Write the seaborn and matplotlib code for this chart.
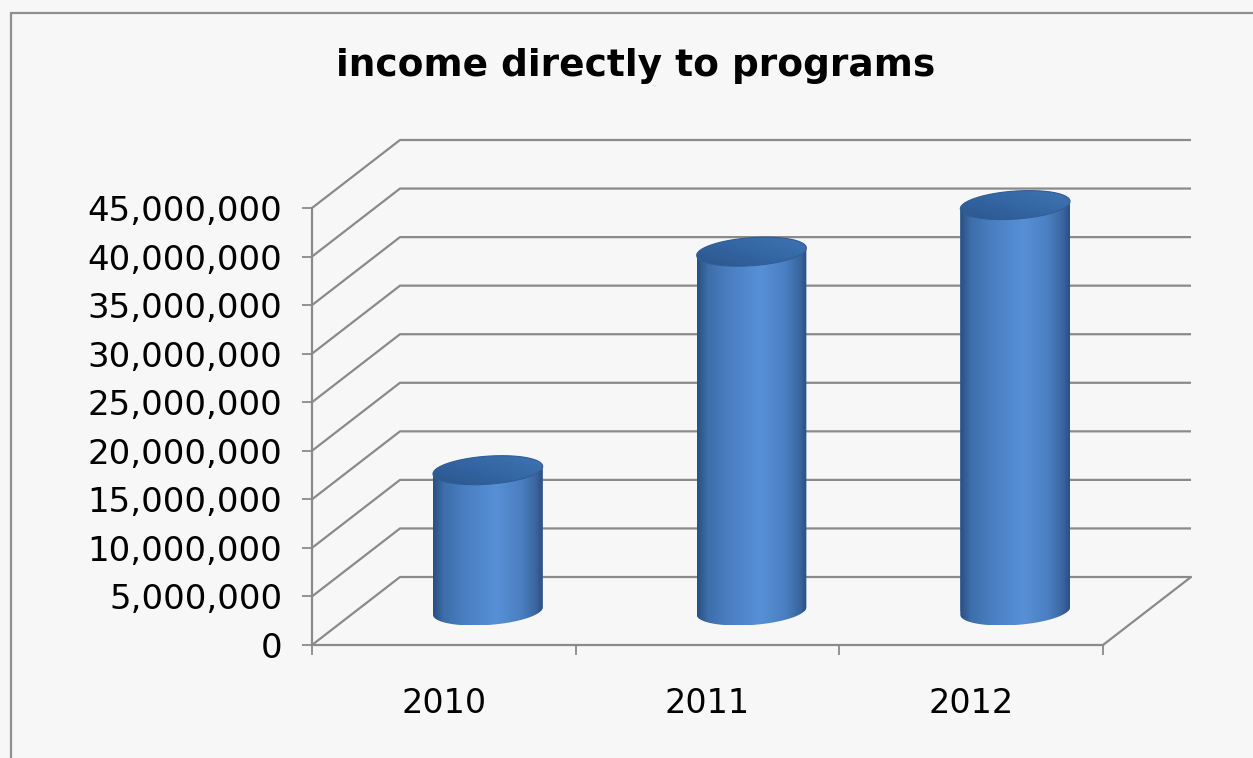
import numpy as np
import pandas as pd
import matplotlib
matplotlib.use("Agg")
import matplotlib.pyplot as plt
import seaborn as sns
from matplotlib.path import Path
from matplotlib.patches import PathPatch, Rectangle
from matplotlib.colors import LinearSegmentedColormap
from matplotlib.ticker import FuncFormatter, FixedLocator

# ---- data ----
years = ["2010", "2011", "2012"]
income = [14.5e6, 37.0e6, 41.8e6]
yticks = [0, 5e6, 10e6, 15e6, 20e6, 25e6, 30e6, 35e6, 40e6, 45e6]
title = "income directly to programs"

sns.set_theme(style="white")
plt.rcParams["font.family"] = ["DejaVu Sans"]

W, H = 1253, 758
BG = "#f7f7f7"
GRID = "#8a8a8a"

fig = plt.figure(figsize=(W / 100, H / 100), dpi=100, facecolor=BG)
ax = fig.add_axes([312 / W, (H - 645) / H, (1103 - 312) / W, (645 - 208) / H])
ax.set_facecolor("none")

df = pd.DataFrame({"year": years, "income": income})
sns.barplot(data=df, x="year", y="income", ax=ax, width=0.416,
            color="#4a7fc0", saturation=1, zorder=3, errorbar=None)

xlim = (-0.5, 2.5)
ylim = (0, yticks[-1])
px_x = (1103 - 312) / 3.0          # pixels per category unit
px_y = (645 - 208) / yticks[-1]    # pixels per value unit
DX = 88 / px_x                     # depth offset (data units)
DY = 68 / px_y

# ---- walls / gridlines ----
for v in yticks:
    ax.plot([xlim[0], xlim[0] + DX, xlim[1] + DX], [v, v + DY, v + DY],
            color=GRID, lw=1.6, clip_on=False, zorder=1, solid_capstyle="butt")
ax.plot([xlim[1], xlim[1] + DX], [0, DY], color=GRID, lw=1.6, clip_on=False, zorder=1)

# ---- cylinders ----
body_cmap = LinearSegmentedColormap.from_list(
    "body", [(0.0, "#2b4f80"), (0.10, "#3e6eab"), (0.30, "#4a80c3"),
             (0.58, "#5790d6"), (0.80, "#4a80c2"), (0.93, "#3b68a2"), (1.0, "#2c4f80")])
top_cmap = LinearSegmentedColormap.from_list("top", ["#2b568c", "#3466a3", "#3f73b2"])

a_px, s_px, b_px = 53.0, 14.0, 14.5
for p in list(ax.patches):
    x0, w, h = p.get_x(), p.get_width(), p.get_height()
    p.set_x(x0 + DX / 2)
    p.set_y(DY / 2)
    cx = x0 + DX / 2 + w / 2
    hx = w / 2
    a = hx * a_px / np.hypot(a_px, s_px)
    s = hx * s_px / np.hypot(a_px, s_px)
    b = b_px / px_y
    th0 = np.arctan2(s, a)
    yb = DY / 2
    yt = DY / 2 + h

    def ell(t, yc):
        return cx + a * np.cos(t) + s * np.sin(t), yc + b * np.sin(t)

    t_front = np.linspace(np.pi + th0, 2 * np.pi + th0, 120)
    bx, by = ell(t_front, yb)
    tx, ty = ell(t_front[::-1], yt)
    verts = np.column_stack([np.r_[bx, tx, bx[:1]], np.r_[by, ty, by[:1]]])
    outline = Path(verts, closed=True)
    clip = PathPatch(outline, transform=ax.transData, facecolor="none", edgecolor="none")
    ax.add_patch(clip)
    clip.set_clip_on(False)
    p.set_clip_path(clip)
    p.set_clip_box(None)
    p.set_edgecolor("none")

    grad = np.linspace(0, 1, 256)[None, :]
    im = ax.imshow(grad, cmap=body_cmap, extent=[cx - hx, cx + hx, yb - b, yt + b],
                   aspect="auto", zorder=4, interpolation="bicubic")
    im.set_clip_path(clip)
    im.set_clip_box(fig.bbox)

    tt = np.linspace(0, 2 * np.pi, 200)
    ex, ey = ell(tt, yt)
    top_path = Path(np.column_stack([ex, ey]), closed=True)
    top_patch = PathPatch(top_path, transform=ax.transData, facecolor="none",
                          edgecolor="#2f5c95", lw=0.8, zorder=6)
    ax.add_patch(top_patch)
    top_patch.set_clip_on(False)
    gx, gy = np.meshgrid(np.linspace(0, 1, 64), np.linspace(0, 1, 64))
    tg = 0.55 * gx + 0.45 * (1 - gy)
    im2 = ax.imshow(tg, cmap=top_cmap, extent=[cx - hx, cx + hx, yt - b, yt + b],
                    origin="upper", aspect="auto", zorder=5, interpolation="bicubic")
    im2.set_clip_path(top_patch)
    im2.set_clip_box(fig.bbox)

ax.set_xlim(*xlim)
ax.set_ylim(*ylim)

# ---- axes styling ----
for side in ["top", "right"]:
    ax.spines[side].set_visible(False)
for side in ["left", "bottom"]:
    ax.spines[side].set_color(GRID)
    ax.spines[side].set_linewidth(1.6)
    ax.spines[side].set_zorder(2)

ax.set_yticks(yticks)
ax.yaxis.set_major_formatter(FuncFormatter(lambda v, _: f"{int(round(v)):,}"))
ax.tick_params(axis="y", which="major", direction="out", length=7.5, width=1.3,
               color=GRID, labelsize=24.5, labelcolor="black", pad=14, left=True)
ax.set_xticks([0, 1, 2])
ax.set_xticklabels(years)
ax.xaxis.set_minor_locator(FixedLocator([-0.5, 0.5, 1.5, 2.5]))
ax.tick_params(axis="x", which="major", length=0, labelsize=24, labelcolor="black", pad=30)
ax.tick_params(axis="x", which="minor", direction="out", length=7.5, width=1.3,
               color=GRID, bottom=True)
ax.set_xlabel("")
ax.set_ylabel("")

fig.text(636 / W, 1 - 66 / H, title, ha="center", va="center",
         fontsize=27, fontweight="bold", color="black")

border = Rectangle((11 / W, -0.1), 1.2, 1 - 13 / H + 0.1, transform=fig.transFigure,
                   facecolor="none", edgecolor="#8f8f8f", lw=1.6, zorder=0)
fig.patches.append(border)

fig.savefig("out.png", dpi=100, facecolor=BG)
